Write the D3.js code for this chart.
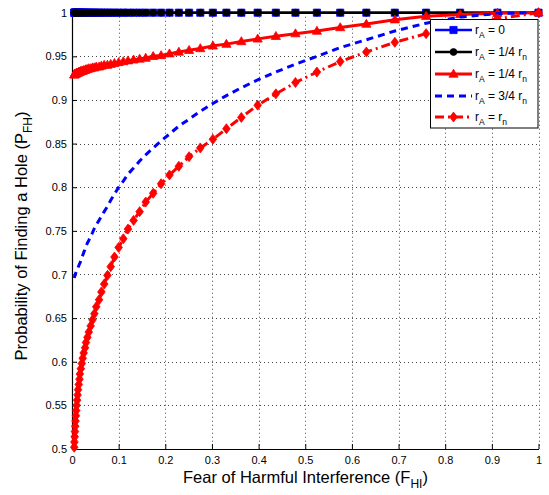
<!DOCTYPE html>
<html>
<head>
<meta charset="utf-8">
<script src="https://cdn.jsdelivr.net/npm/d3@7"></script>
<style>
  html, body { margin: 0; padding: 0; background: #fff; }
  svg { display: block; font-family: "Liberation Sans", Arial, Helvetica, sans-serif; }
</style>
</head>
<body>
<svg id="chart" width="549" height="495"></svg>
<script>
// Fear of harmful interference values shared by every curve
const fhi = [1.000, 0.912, 0.832, 0.759, 0.692, 0.631, 0.575, 0.525, 0.479, 0.437,
  0.398, 0.363, 0.331, 0.302, 0.275, 0.251, 0.229, 0.209, 0.191, 0.174,
  0.158, 0.145, 0.132, 0.120, 0.110, 0.100, 0.091, 0.083, 0.076, 0.069,
  0.063, 0.058, 0.052, 0.048, 0.044, 0.040, 0.036, 0.033, 0.030, 0.028,
  0.025, 0.023, 0.021, 0.019, 0.017, 0.016, 0.0145, 0.013, 0.012, 0.011,
  0.010, 0.009, 0.0083, 0.0076, 0.0069, 0.0063, 0.0058, 0.0052, 0.0048];

// Probability of finding a hole for each attacker radius
const pRa0 = [1, 1, 1, 1, 1, 1, 1, 1, 1, 1,
  1, 1, 1, 1, 1, 1, 1, 1, 1, 1,
  1, 1, 1, 1, 1, 1, 1, 1, 1, 1,
  1, 1, 1, 1, 1, 1, 1, 1, 1, 1,
  1, 1, 1, 1, 1, 1, 1, 1, 1, 1,
  1, 1, 1, 1, 1, 1, 1, 1, 1];
const pRaQuarterA = [1, 1, 1, 1, 1, 1, 1, 1, 1, 1,
  1, 1, 1, 1, 1, 1, 1, 1, 1, 1,
  1, 1, 1, 1, 1, 1, 1, 1, 1, 1,
  1, 1, 1, 1, 1, 1, 1, 1, 1, 1,
  1, 1, 1, 1, 1, 1, 1, 1, 1, 1,
  1, 1, 1, 1, 1, 1, 1, 1, 1];
const pRaQuarterB = [1.000, 0.9995, 0.998, 0.996, 0.992, 0.987, 0.983, 0.979, 0.976, 0.973,
  0.970, 0.967, 0.964, 0.962, 0.959, 0.957, 0.955, 0.953, 0.951, 0.950,
  0.948, 0.947, 0.946, 0.945, 0.944, 0.943, 0.942, 0.941, 0.940, 0.940,
  0.939, 0.938, 0.938, 0.937, 0.937, 0.936, 0.936, 0.935, 0.935, 0.934,
  0.934, 0.933, 0.933, 0.933, 0.932, 0.932, 0.932, 0.931, 0.931, 0.931,
  0.931, 0.930, 0.930, 0.930, 0.930, 0.930, 0.929, 0.929, 0.929];
const pRaThreeQuarter = [1.000, 0.999, 0.995, 0.988, 0.979, 0.969, 0.960, 0.950, 0.941, 0.932,
  0.923, 0.914, 0.905, 0.896, 0.887, 0.878, 0.870, 0.861, 0.853, 0.845,
  0.837, 0.830, 0.822, 0.815, 0.807, 0.800, 0.792, 0.785, 0.778, 0.772,
  0.767, 0.762, 0.757, 0.753, 0.748, 0.744, 0.739, 0.736, 0.732, 0.729,
  0.725, 0.722, 0.719, 0.716, 0.713, 0.712, 0.710, 0.708, 0.707, 0.706,
  0.705, 0.703, 0.702, 0.701, 0.700, 0.699, 0.698, 0.697, 0.696];
const pRaFull = [1.000, 0.993, 0.985, 0.976, 0.966, 0.955, 0.944, 0.932, 0.920, 0.907,
  0.894, 0.880, 0.867, 0.855, 0.845, 0.835, 0.824, 0.814, 0.804, 0.793,
  0.783, 0.772, 0.762, 0.752, 0.741, 0.731, 0.720, 0.709, 0.699, 0.689,
  0.680, 0.671, 0.663, 0.655, 0.648, 0.641, 0.634, 0.628, 0.622, 0.616,
  0.610, 0.604, 0.598, 0.592, 0.586, 0.580, 0.574, 0.568, 0.562, 0.556,
  0.550, 0.544, 0.538, 0.532, 0.526, 0.520, 0.514, 0.508, 0.502];

const xTicks = [0, 0.1, 0.2, 0.3, 0.4, 0.5, 0.6, 0.7, 0.8, 0.9, 1];
const xTickLabels = ["0", "0.1", "0.2", "0.3", "0.4", "0.5", "0.6", "0.7", "0.8", "0.9", "1"];
const yTicks = [0.5, 0.55, 0.6, 0.65, 0.7, 0.75, 0.8, 0.85, 0.9, 0.95, 1];
const yTickLabels = ["0.5", "0.55", "0.6", "0.65", "0.7", "0.75", "0.8", "0.85", "0.9", "0.95", "1"];

const legendNames = [["r", "A", " = 0", ""],
  ["r", "A", " = 1/4 r", "n"],
  ["r", "A", " = 1/4 r", "n"],
  ["r", "A", " = 3/4 r", "n"],
  ["r", "A", " = r", "n"]];

const series = [
  { values: pRa0, color: "#0000ff", dash: null, marker: "square", width: 2.6 },
  { values: pRaQuarterA, color: "#000000", dash: null, marker: "circle", width: 2.6 },
  { values: pRaQuarterB, color: "#ff0000", dash: null, marker: "triangle", width: 3 },
  { values: pRaThreeQuarter, color: "#0000ff", dash: "7,5", marker: null, width: 3 },
  { values: pRaFull, color: "#ff0000", dash: "9,4,2,4", marker: "diamond", width: 3 }
];

const svg = d3.select("#chart");
const plotL = 72, plotR = 538.5, plotT = 12.7, plotB = 449;

const x = d3.scaleLinear().domain([0, 1]).range([plotL, plotR]);
const y = d3.scaleLinear().domain([0.5, 1]).range([plotB, plotT]);

// dotted grid
const grid = svg.append("g").attr("stroke", "#444").attr("stroke-width", 1)
  .attr("stroke-dasharray", "1,3");
grid.selectAll("line.v").data(xTicks.slice(1)).join("line")
  .attr("x1", d => Math.round(x(d)) + 0.5).attr("x2", d => Math.round(x(d)) + 0.5)
  .attr("y1", plotT).attr("y2", plotB);
grid.selectAll("line.h").data(yTicks.slice(1)).join("line")
  .attr("x1", plotL).attr("x2", plotR)
  .attr("y1", d => Math.round(y(d)) + 0.5).attr("y2", d => Math.round(y(d)) + 0.5);

// axes with inward ticks
const xAxis = d3.axisBottom(x).tickValues(xTicks)
  .tickFormat((d, i) => xTickLabels[i]).tickSizeInner(-5).tickSizeOuter(0).tickPadding(7);
const yAxis = d3.axisLeft(y).tickValues(yTicks)
  .tickFormat((d, i) => yTickLabels[i]).tickSizeInner(-5).tickSizeOuter(0).tickPadding(5);

const gx = svg.append("g").attr("transform", `translate(0,${plotB})`).call(xAxis);
const gy = svg.append("g").attr("transform", `translate(${plotL},0)`).call(yAxis);
[gx, gy].forEach(g => {
  g.select(".domain").attr("stroke", "#000").attr("stroke-width", 1.2);
  g.selectAll(".tick line").attr("stroke", "#000");
  g.selectAll(".tick text").attr("fill", "#000").attr("font-size", 11)
    .attr("font-family", "'Liberation Sans', Arial, sans-serif");
});

// marker shapes
function markerPath(kind) {
  if (kind === "square") return d3.symbol(d3.symbolSquare, 52)();
  if (kind === "circle") return d3.symbol(d3.symbolCircle, 36)();
  if (kind === "triangle") return "M0,-4.8L4.6,3.2L-4.6,3.2Z";
  if (kind === "diamond") return "M0,-5L3.8,0L0,5L-3.8,0Z";
  return null;
}

const line = d3.line().x(d => x(d[0])).y(d => y(d[1]));

series.forEach(s => {
  const pts = fhi.map((f, i) => [f, s.values[i]]);
  const g = svg.append("g");
  g.append("path").datum(pts)
    .attr("fill", "none").attr("stroke", s.color).attr("stroke-width", s.width)
    .attr("stroke-dasharray", s.dash).attr("stroke-linejoin", "round")
    .attr("d", line);
  if (s.marker) {
    g.selectAll("path.m").data(pts).join("path")
      .attr("class", "m")
      .attr("transform", d => `translate(${x(d[0])},${y(d[1])})`)
      .attr("d", markerPath(s.marker))
      .attr("fill", s.color).attr("stroke", s.color).attr("stroke-width", 0.8);
  }
});

// legend
const lg = svg.append("g");
lg.append("rect").attr("x", 430.5).attr("y", 19.5).attr("width", 107.5).attr("height", 108.5)
  .attr("fill", "#fff").attr("stroke", "#000").attr("stroke-width", 1);
const rowY = [30, 52, 74, 96, 117];
series.forEach((s, i) => {
  const yy = rowY[i];
  lg.append("line").attr("x1", 435).attr("x2", 472).attr("y1", yy).attr("y2", yy)
    .attr("stroke", s.color).attr("stroke-width", s.width)
    .attr("stroke-dasharray", s.dash);
  if (s.marker) {
    lg.append("path").attr("transform", `translate(453.5,${yy})`)
      .attr("d", markerPath(s.marker)).attr("fill", s.color)
      .attr("stroke", s.color).attr("stroke-width", 0.8);
  }
  const parts = legendNames[i];
  const t = lg.append("text").attr("x", 475).attr("y", yy + 4)
    .attr("font-size", 12).attr("fill", "#000");
  t.append("tspan").text(parts[0]);
  t.append("tspan").attr("font-size", 8.5).attr("dy", 3.5).text(parts[1]);
  t.append("tspan").attr("dy", -3.5).text(parts[2]);
  if (parts[3]) t.append("tspan").attr("font-size", 8.5).attr("dy", 3.5).text(parts[3]);
});

// axis titles
const xt = svg.append("text").attr("x", 305.5).attr("y", 482.5)
  .attr("text-anchor", "middle").attr("font-size", 16.5).attr("fill", "#000");
xt.append("tspan").text("Fear of Harmful Interference (F");
xt.append("tspan").attr("font-size", 12).attr("dy", 5).text("HI");
xt.append("tspan").attr("dy", -5).text(")");

const yt = svg.append("text")
  .attr("transform", "translate(27,236) rotate(-90)")
  .attr("text-anchor", "middle").attr("font-size", 16.5).attr("fill", "#000");
yt.append("tspan").text("Probability of Finding a Hole (P");
yt.append("tspan").attr("font-size", 12).attr("dy", 5).text("FH");
yt.append("tspan").attr("dy", -5).text(")");
</script>
</body>
</html>
